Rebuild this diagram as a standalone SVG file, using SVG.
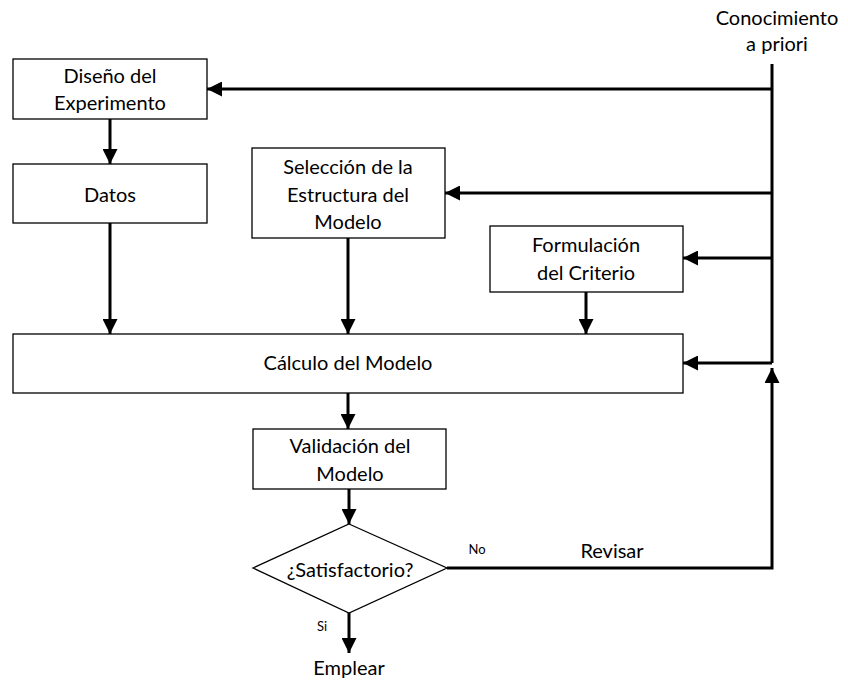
<svg xmlns="http://www.w3.org/2000/svg" width="848" height="680" viewBox="0 0 848 680">
<defs>
<style>
.box{fill:#fff;stroke:#000;stroke-width:1.3}
.t{font-family:Lato,"Open Sans","Liberation Sans",sans-serif;font-size:20px;fill:#000;text-anchor:middle}
.s{font-family:Lato,"Open Sans","Liberation Sans",sans-serif;font-size:13px;fill:#000;text-anchor:middle}
.c{fill:none;stroke:#000;stroke-width:3}
</style>
<marker id="ah" viewBox="0 0 10 10" refX="10" refY="5" markerWidth="5" markerHeight="5" orient="auto" markerUnits="strokeWidth">
<path d="M0,0 L10,5 L0,10 Z" fill="#000"/>
</marker>
</defs>
<rect width="848" height="680" fill="#fff"/>
<g id="connectors">
<path class="c" d="M772,64 L772,363"/>
<path class="c" d="M772,89 L207,89" marker-end="url(#ah)"/>
<path class="c" d="M772,193 L445,193" marker-end="url(#ah)"/>
<path class="c" d="M772,258 L683,258" marker-end="url(#ah)"/>
<path class="c" d="M772,363 L683,363" marker-end="url(#ah)"/>
<path class="c" d="M110,119 L110,164" marker-end="url(#ah)"/>
<path class="c" d="M110,223 L110,334" marker-end="url(#ah)"/>
<path class="c" d="M348,238 L348,334" marker-end="url(#ah)"/>
<path class="c" d="M586,292 L586,334" marker-end="url(#ah)"/>
<path class="c" d="M348,393 L348,429" marker-end="url(#ah)"/>
<path class="c" d="M349,489 L349,524" marker-end="url(#ah)"/>
<path class="c" d="M349,613 L349,653" marker-end="url(#ah)"/>
<path class="c" d="M447,568 L772,568 L772,368" marker-end="url(#ah)"/>
<text class="s" x="477" y="554">No</text>
<text class="t" x="612" y="558">Revisar</text>
<text class="s" x="322" y="631">Si</text>
</g>
<g id="conocimiento">
<text class="t" x="777" y="25">Conocimiento</text>
<text class="t" x="777" y="51">a priori</text>
</g>
<g id="diseno">
<rect class="box" x="13" y="59" width="194" height="60"/>
<text class="t" x="110" y="83">Diseño del</text>
<text class="t" x="110" y="110">Experimento</text>
</g>
<g id="datos">
<rect class="box" x="13" y="164" width="194" height="59"/>
<text class="t" x="110" y="202">Datos</text>
</g>
<g id="seleccion">
<rect class="box" x="252" y="148" width="193" height="90"/>
<text class="t" x="348" y="174">Selección de la</text>
<text class="t" x="348" y="202">Estructura del</text>
<text class="t" x="348" y="229">Modelo</text>
</g>
<g id="formulacion">
<rect class="box" x="490" y="226" width="193" height="66"/>
<text class="t" x="586" y="252">Formulación</text>
<text class="t" x="586" y="280">del Criterio</text>
</g>
<g id="calculo">
<rect class="box" x="13" y="334" width="670" height="59"/>
<text class="t" x="348" y="370">Cálculo del Modelo</text>
</g>
<g id="validacion">
<rect class="box" x="253" y="429" width="193" height="60"/>
<text class="t" x="350" y="453">Validación del</text>
<text class="t" x="350" y="481">Modelo</text>
</g>
<g id="satisfactorio">
<path class="box" d="M349,524 L447,568 L349,613 L253,568 Z"/>
<text class="t" x="350" y="577">¿Satisfactorio?</text>
</g>
<g id="emplear">
<text class="t" x="349" y="675">Emplear</text>
</g>
</svg>
